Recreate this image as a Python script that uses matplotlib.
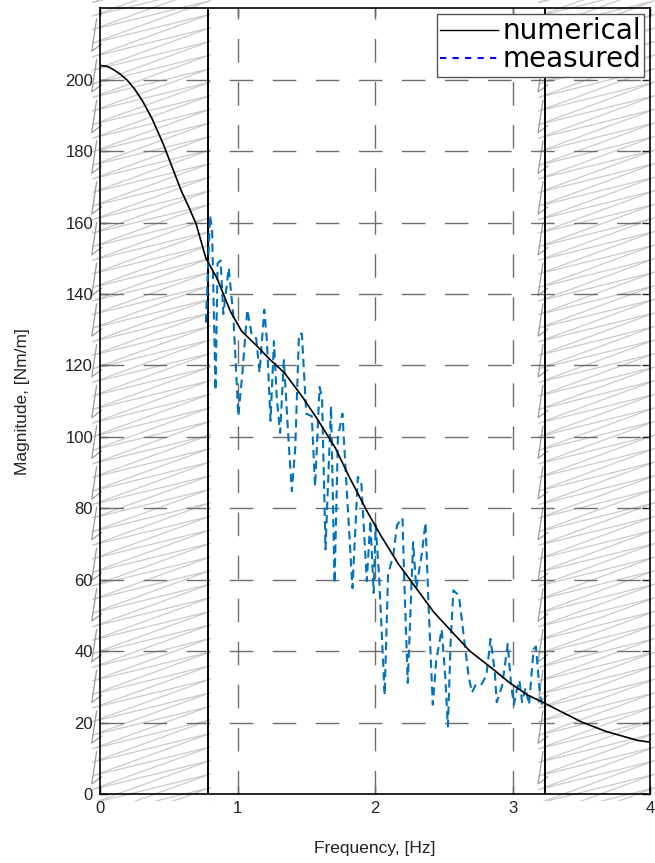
import matplotlib
matplotlib.use('Agg')
import matplotlib.pyplot as plt
from matplotlib.lines import Line2D
from matplotlib.patches import Rectangle

# ---- data ----
freq_num = [0.00, 0.05, 0.10, 0.15, 0.20, 0.25, 0.31, 0.38, 0.46, 0.52, 0.59,
            0.65, 0.70, 0.77, 0.85, 0.95, 1.03, 1.14, 1.24, 1.34, 1.47, 1.58,
            1.71, 1.81, 1.94, 2.04, 2.17, 2.30, 2.43, 2.56, 2.69, 2.85, 2.98,
            3.11, 3.22, 3.29, 3.50, 3.68, 3.91, 4.00]
mag_num = [204.0, 203.8, 202.8, 201.5, 199.8, 197.5, 194.0, 189.0, 182.0, 176.0,
           169.0, 164.0, 159.5, 150.0, 144.5, 135.0, 129.6, 125.5, 121.5, 118.0,
           111.3, 105.0, 97.0, 89.0, 79.3, 72.5, 64.4, 57.6, 50.8, 45.4, 40.0,
           35.2, 31.1, 27.7, 25.7, 24.3, 20.2, 17.5, 15.0, 14.5]

freq_meas = [0.77, 0.80, 0.815, 0.84, 0.855, 0.877, 0.897, 0.936, 0.97, 1.006,
             1.037, 1.071, 1.105, 1.136, 1.16, 1.195, 1.214, 1.24, 1.265, 1.286,
             1.31, 1.337, 1.37, 1.395, 1.42, 1.447, 1.468, 1.50, 1.54, 1.564,
             1.597, 1.615, 1.64, 1.68, 1.706, 1.73, 1.763, 1.797, 1.836, 1.875,
             1.90, 1.94, 1.966, 1.99, 2.005, 2.03, 2.07, 2.095, 2.134, 2.16,
             2.20, 2.21, 2.238, 2.277, 2.30, 2.34, 2.367, 2.39, 2.42, 2.445,
             2.485, 2.51, 2.53, 2.55, 2.57, 2.61, 2.65, 2.68, 2.705, 2.73, 2.77,
             2.81, 2.84, 2.87, 2.885, 2.925, 2.965, 2.99, 3.01, 3.03, 3.05, 3.07,
             3.094, 3.12, 3.154, 3.17, 3.20, 3.215]
mag_meas = [132.0, 162.0, 158.0, 113.0, 148.6, 149.4, 134.4, 147.3, 133.7, 105.8,
            118.6, 135.6, 128.3, 127.6, 118.0, 135.6, 126.8, 104.5, 126.8, 110.6,
            101.1, 121.5, 99.7, 84.8, 97.0, 128.9, 128.9, 106.5, 105.8, 86.1,
            114.0, 110.6, 68.5, 108.6, 59.0, 99.7, 106.5, 83.4, 57.6, 88.8,
            87.5, 59.6, 76.6, 56.3, 75.3, 60.7, 27.7, 61.4, 67.1, 75.3,
            77.3, 63.0, 31.1, 70.5, 57.6, 67.1, 76.0, 52.2, 25.0, 37.3,
            46.1, 33.2, 18.9, 42.7, 57.0, 55.6, 42.7, 33.2, 28.4, 30.4, 30.4,
            33.2, 43.4, 34.5, 25.7, 30.4, 42.0, 30.4, 25.0, 29.0, 31.8, 25.7,
            29.7, 25.0, 40.6, 41.3, 27.7, 25.0]

band_lo, band_hi = 0.785, 3.236
x_ticks = [0, 1, 2, 3, 4]
y_ticks = list(range(0, 201, 20))

# ---- figure ----
fig = plt.figure(figsize=(6.55, 8.63), dpi=100)
ax = fig.add_axes([0.1527, 0.080, 0.8397, 0.9103])
ax.set_xlim(0, 4)
ax.set_ylim(0, 220)

grid_col = '#6e6e6e'
hatch_col = '#cacaca'
blue = '#0072BD'


def scribble(ax, xl, xr, y0, y1, rise=12.0, step=3.8):
    """Sketchy zig-zag shading between xl and xr, clipped to a box."""
    box = Rectangle((xl, y0), xr - xl, y1 - y0, transform=ax.transData,
                    facecolor='none', edgecolor='none')
    xs, ys = [], []
    y = y0 - rise
    while y < y1:
        xs += [xl, xr]
        ys += [y, y + rise]
        y += step
    ln, = ax.plot(xs, ys, color=hatch_col, lw=0.9, zorder=1)
    ln.set_clip_path(box)
    # small darker hooks along the edges
    for k in range(0, len(xs) - 1, 6):
        if not (y0 + 4 < ys[k] < y1 - 4):
            continue
        d = 0.035 if xs[k] == xl else -0.035
        ax.plot([xs[k] + d, xs[k], xs[k] + 2 * d],
                [ys[k] + 3, ys[k] - 6, ys[k] - 4],
                color='#9c9c9c', lw=0.9, zorder=1, clip_on=False)


scribble(ax, -0.06, band_lo + 0.02, -2, 224)
scribble(ax, band_hi - 0.05, 4.04, -2, 224)

# grid
ax.set_xticks(x_ticks)
ax.set_yticks(y_ticks)
for xv in x_ticks[1:-1]:
    ax.axvline(xv, color=grid_col, lw=1.0, dashes=(17, 14), zorder=2)
for yv in y_ticks[1:]:
    ax.axhline(yv, color=grid_col, lw=1.0, dashes=(17, 14), zorder=2)

# band limits
ax.axvline(band_lo, color='black', lw=1.4, zorder=3)
ax.axvline(band_hi, color='black', lw=1.4, zorder=3)

ax.plot(freq_meas, mag_meas, color=blue, lw=1.5, dashes=(4, 2.5), zorder=4)
ax.plot(freq_num, mag_num, color='black', lw=1.2, zorder=5)

for s in ax.spines.values():
    s.set_linewidth(1.2)
    s.set_zorder(6)

ax.tick_params(direction='in', length=6, width=1.0, top=True, right=True,
               labelsize=12, colors='#222222', pad=5)
for lab in ax.get_xticklabels() + ax.get_yticklabels():
    lab.set_family('Liberation Sans')

ax.set_xlabel('Frequency, [Hz]', fontsize=12.5, family='Liberation Sans',
              color='#222222', labelpad=18)
ax.set_ylabel('Magnitude, [Nm/m]', fontsize=12.5, family='Liberation Sans',
              color='#222222', labelpad=25)

handles = [Line2D([], [], color='black', lw=1.0),
           Line2D([], [], color='#0000ff', lw=1.5, dashes=(3, 3))]
leg = ax.legend(handles, ['numerical', 'measured'], loc='upper right',
                prop={'family': 'DejaVu Sans', 'size': 20},
                handlelength=2.1, handletextpad=0.15, borderpad=0.12,
                labelspacing=0.0, borderaxespad=0.2, fancybox=False,
                framealpha=1, edgecolor='#555555')
leg.get_frame().set_linewidth(1.0)
leg.set_zorder(10)

fig.savefig('out.png', dpi=100, facecolor='white')
